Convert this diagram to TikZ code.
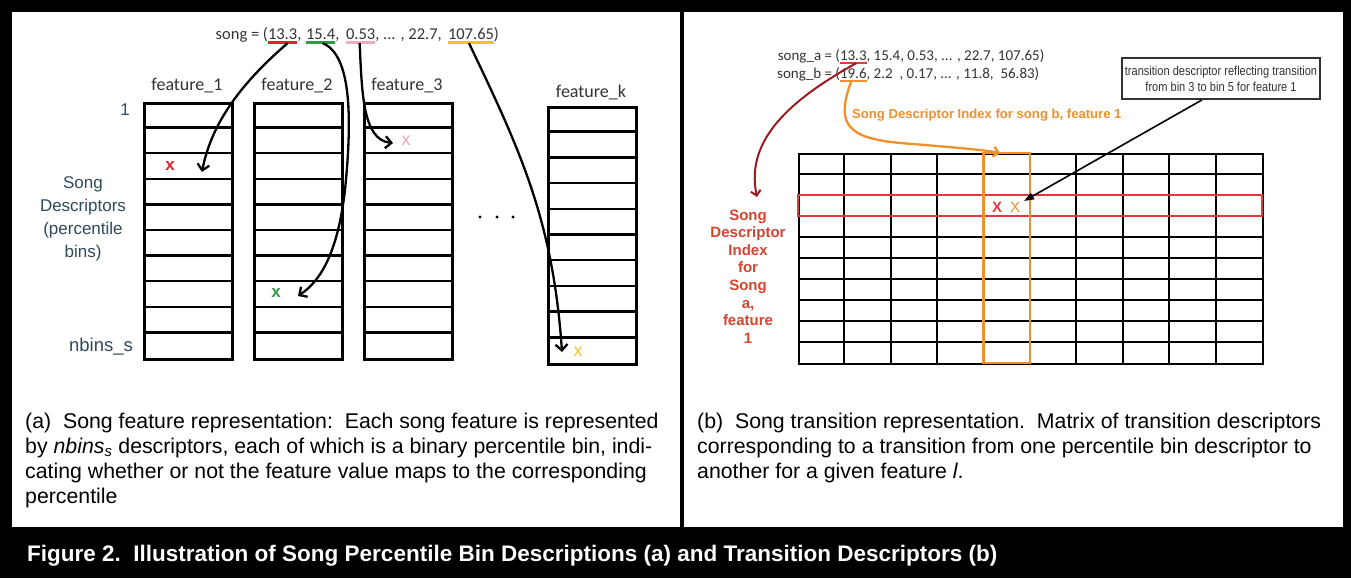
\documentclass[tikz,border=0pt]{standalone}
\usepackage{fontspec}
\setmainfont{Liberation Sans}
\newfontfamily\calfont{Carlito}
\newfontfamily\narrowfont[FakeStretch=0.85]{Liberation Sans}
\usetikzlibrary{arrows.meta}
\definecolor{slate}{HTML}{2F4A5A}
\definecolor{txtgray}{HTML}{333333}
\definecolor{ulred}{HTML}{D9262C}
\definecolor{ulgreen}{HTML}{2E9E44}
\definecolor{ulpink}{HTML}{F2A9C4}
\definecolor{ulyellow}{HTML}{F0C030}
\definecolor{darkred}{HTML}{9C1B1F}
\definecolor{orng}{HTML}{F0902A}
\definecolor{rowred}{HTML}{E0393E}
\definecolor{lblred}{HTML}{D3452F}
\begin{document}
\begin{tikzpicture}[x=1pt,y=-1pt,
  songtxt/.style={font=\calfont\fontsize{16.5}{18}\selectfont, inner sep=0pt, outer sep=0pt, text=txtgray, anchor=base west},
  songtxtb/.style={font=\calfont\fontsize{15}{17}\selectfont, inner sep=0pt, outer sep=0pt, text=txtgray, anchor=base west},
  flabel/.style={font=\calfont\fontsize{18}{20}\selectfont, text=txtgray, anchor=base, inner sep=0pt},
  colbox/.style={draw=black, line width=2.5pt, minimum width=88pt, inner sep=0pt, anchor=north west},
  binline/.style={line width=2.5pt},
  ulline/.style={line width=3pt},
  barb/.style={line width=2.3pt, -{Straight Barb[length=6pt,width=12pt]}},
  slatetxt/.style={font=\fontsize{17}{23}\selectfont, text=slate, align=center, inner sep=0pt},
  xmark/.style={inner sep=0pt, font=\bfseries\fontsize{15}{15}\selectfont},
  gridline/.style={line width=2pt},
  captxt/.style={font=\fontsize{21.3}{24.8}\selectfont, align=left, inner sep=0pt, anchor=north west, text=black}
]
\fill[black] (0,0) rectangle (1351,578);
\useasboundingbox (0,0) rectangle (1351,578);
\fill[white] (12,12) rectangle (680,527);
\fill[white] (684,12) rectangle (1343,527);

% ---------------- left panel -----------------
\node[songtxt] (v1) at (268,40) {13.3};
\node[songtxt, anchor=base east] (s0) at (v1.base west) {song = (};
\node[songtxt] (c1) at (v1.base east) {,};
\node[songtxt] (v2) at (306,40) {15.4};
\node[songtxt] (c2) at (v2.base east) {,};
\node[songtxt] (v3) at (346,40) {0.53};
\node[songtxt] (c3) at (v3.base east) {, ... , 22.7,};
\node[songtxt] (v4) at (448,40) {107.65};
\node[songtxt] (c4) at (v4.base east) {)};
\draw[ulline, ulred] ([yshift=-2.5pt]v1.south west) -- ([yshift=-2.5pt]v1.south east);
\draw[ulline, ulgreen] ([yshift=-2.5pt]v2.south west) -- ([yshift=-2.5pt]v2.south east);
\draw[ulline, ulpink] ([yshift=-2.5pt]v3.south west) -- ([yshift=-2.5pt]v3.south east);
\draw[ulline, ulyellow] ([yshift=-2.5pt]v4.south west) -- ([yshift=-2.5pt]v4.south east);

\node[flabel] (f1) at (187,90) {feature\_1};
\node[flabel] (f2) at (297,90) {feature\_2};
\node[flabel] (f3) at (407,90) {feature\_3};
\node[flabel] (fk) at (591,97) {feature\_k};

\node[colbox, minimum height=256pt] (col1) at (143,102) {};
\node[colbox, minimum height=256pt] (col2) at (253,102) {};
\node[colbox, minimum height=256pt] (col3) at (363,102) {};
\node[colbox, minimum height=257pt] (colk) at (547,106) {};
\foreach \x in {143,253,363}{
  \foreach \i in {1,...,9}{
    \draw[binline] (\x,102+\i*25.6) -- +(88,0);
  }
}
\foreach \i in {1,...,9}{
  \draw[binline] (547,106+\i*25.7) -- +(88,0);
}
\foreach \x in {480,497,513}{
  \fill[black] (\x,217) circle (1.7);
}

\node[slatetxt] (one) at (125,110) {1};
\node[slatetxt] (sd) at (83,219) {Song\\Descriptors\\(percentile\\bins)};
\node[slatetxt, font=\fontsize{18.5}{23}\selectfont] (nb) at (101,347) {nbins\_s};

\node[xmark, text=ulred, font=\bfseries\fontsize{17}{17}\selectfont] (x1) at (170,166) {x};
\node[xmark, text=ulgreen, font=\bfseries\fontsize{17}{17}\selectfont] (x2) at (276,293) {x};
\node[xmark, text=ulpink, font=\fontsize{18}{18}\selectfont] (x3) at (406,141) {x};
\node[xmark, text=ulyellow, font=\fontsize{18}{18}\selectfont] (x4) at (578,352) {x};

\coordinate (e1) at (202,172);
\coordinate (e2) at (298,296);
\coordinate (e3) at (393,143);
\coordinate (e4) at (562,352);
\draw[barb] ([xshift=5pt,yshift=-3pt]v1.south) .. controls (245,80) and (212,120) .. (e1);
\draw[barb] ([xshift=2pt,yshift=-3pt]v2.south) .. controls (352,55) and (352,120) .. (345,190) .. controls (338,250) and (322,280) .. (e2);
\draw[barb] ([xshift=-1pt,yshift=-3pt]v3.south) .. controls (362,90) and (362,140) .. (e3);
\draw[barb] ([xshift=-2pt,yshift=-3pt]v4.south) .. controls (520,150) and (553,220) .. (e4);

% ---------------- right panel -----------------
\node[songtxtb] (sa1) at (840,60) {13.3};
\node[songtxtb, anchor=base east] (sa0) at (sa1.base west) {song\_a = (};
\node[songtxtb] (sa2) at (sa1.base east) {, 15.4, 0.53, ... , 22.7, 107.65)};
\node[songtxtb] (sb1) at (840,78) {19.6};
\node[songtxtb, anchor=base east] (sb0) at (sb1.base west) {song\_b = (};
\node[songtxtb] (sb2) at (sb1.base east) {, 2.2\ \ , 0.17, ... , 11.8,\ \ 56.83)};
\draw[line width=2pt, rowred] ([yshift=-2.5pt]sa1.south west) -- ([yshift=-2.5pt]sa1.south east);
\draw[line width=2pt, orng] ([yshift=-2.5pt]sb1.south west) -- ([yshift=-2.5pt]sb1.south east);

\node[draw=txtgray, line width=1.8pt, font=\narrowfont\fontsize{13}{16}\selectfont, text=txtgray,
      align=center, minimum width=198pt, minimum height=41pt, inner sep=1pt] (tbox) at (1221,78.5)
  {transition descriptor reflecting transition\\from bin 3 to bin 5 for feature 1};

\node[font=\bfseries\fontsize{13.1}{14}\selectfont, text=orng, anchor=west, inner sep=0pt] (olbl) at (852,115)
  {Song Descriptor Index for song b, feature 1};

\node[font=\bfseries\fontsize{15}{17.6}\selectfont, text=lblred, align=center, inner sep=0pt] (rlbl) at (748,276.5)
  {Song\\Descriptor\\Index\\for\\Song\\a,\\feature\\1};

\node[draw=black, gridline, minimum width=464pt, minimum height=210pt, inner sep=0pt, anchor=north west] (grid) at (798,153) {};
\foreach \i in {1,...,9}{
  \draw[gridline] (798+\i*46.4,153) -- +(0,210);
  \draw[gridline] (798,153+\i*21) -- +(464,0);
}
\draw[line width=2pt, rowred] (798,195) rectangle (1262,216);
\draw[line width=2.5pt, orng] (983.6,153) rectangle (1030,363);

\node[inner sep=0pt, text=rowred, font=\bfseries\fontsize{15}{15}\selectfont] (xr) at (997,207) {X};
\node[inner sep=0pt, text=orng, font=\fontsize{15}{15}\selectfont] (xo) at (1015,207) {X};

\coordinate (ea) at (1024,201);
\coordinate (eb) at (757,197);
\coordinate (ec) at (1000,153);
\draw[line width=1.6pt, -{Triangle[length=10pt,width=7pt]}] ([xshift=-19pt]tbox.south) -- (ea);
\draw[line width=2pt, darkred, -{Straight Barb[length=5pt,width=10pt]}] ([xshift=3pt,yshift=-3pt]sa1.south) .. controls (790,100) and (745,140) .. (eb);
\draw[line width=2.3pt, orng, -{Straight Barb[length=5pt,width=10pt]}] ([xshift=-2pt,yshift=-3pt]sb1.south) .. controls (835,125) and (848,138) .. (900,143) .. controls (950,147) and (985,150) .. (ec);

% ---------------- captions -----------------
\node[captxt] (capa) at (25,413)
 {(a)\ \ Song feature representation:\ \ Each song feature is represented\\
  by \textit{nbins\textsubscript{s}} descriptors, each of which is a binary percentile bin, indi-\\
  cating whether or not the feature value maps to the corresponding\\
  percentile};
\node[captxt] (capb) at (697,413)
 {(b)\ \ Song transition representation.\ \ Matrix of transition descriptors\\
  corresponding to a transition from one percentile bin descriptor to\\
  another for a given feature \textit{l}.};

\node[anchor=west, text=white, inner sep=0pt, font=\bfseries\fontsize{22.5}{24}\selectfont] (fig) at (27,556)
 {Figure 2.\ \ Illustration of Song Percentile Bin Descriptions (a) and Transition Descriptors (b)};
\end{tikzpicture}
\end{document}
